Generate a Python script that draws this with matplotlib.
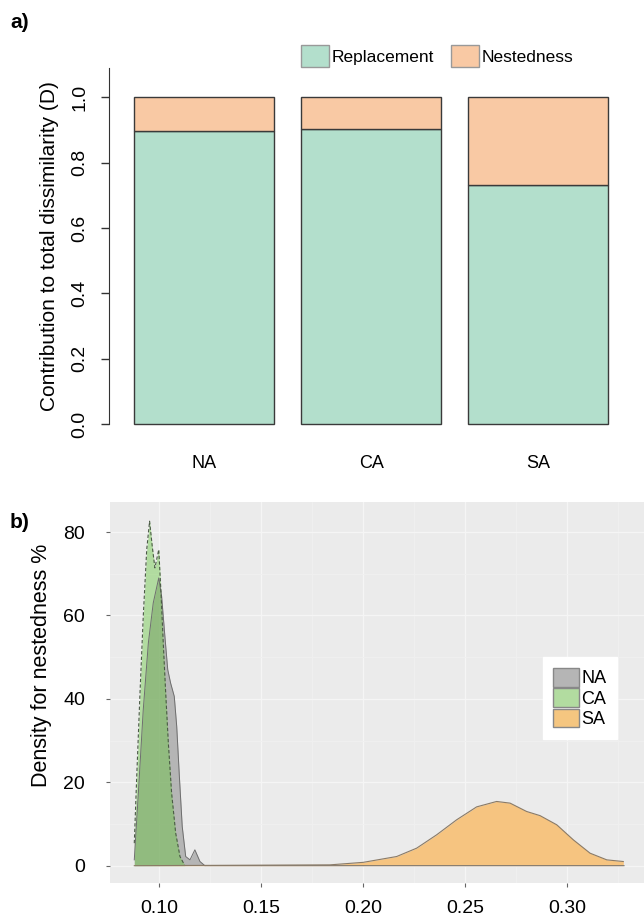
import matplotlib
matplotlib.use("Agg")
import matplotlib.pyplot as plt
from matplotlib.patches import Patch

plt.rcParams['font.family'] = ['Liberation Sans', 'DejaVu Sans']

# panel a: partitioning of total dissimilarity
regions = ["NA", "CA", "SA"]
replacement = [0.898, 0.902, 0.733]
nestedness = [0.102, 0.098, 0.267]

# panel b: density of nestedness
na_x = [0.0879, 0.0899, 0.0923, 0.0948, 0.0972, 0.0999, 0.1013, 0.1029, 0.1043,
        0.1057, 0.1075, 0.1087, 0.1100, 0.1114, 0.1131, 0.1152, 0.1176, 0.1201,
        0.1225, 0.20, 0.328]
na_y = [1.4, 17.4, 37.4, 53.4, 63.0, 69.0, 64.6, 55.0, 47.0,
        43.8, 40.6, 33.4, 21.4, 9.4, 2.2, 1.4, 3.8, 1.0,
        0.0, 0.0, 0.0]

ca_x = [0.0879, 0.0891, 0.0907, 0.0923, 0.0940, 0.0954, 0.0967, 0.0980, 0.0999,
        0.1010, 0.1021, 0.1033, 0.1046, 0.1062, 0.1082, 0.1103, 0.1127]
ca_y = [5.4, 21.4, 41.4, 59.8, 75.8, 82.6, 76.6, 71.4, 75.8,
        65.4, 53.4, 41.4, 29.4, 17.4, 7.8, 2.2, 0.0]

sa_x = [0.0879, 0.1838, 0.2001, 0.2165, 0.2263, 0.2361, 0.2459, 0.2557, 0.2655,
        0.2721, 0.2802, 0.2868, 0.2950, 0.3031, 0.3113, 0.3195, 0.3276]
sa_y = [0.0, 0.2, 0.8, 2.2, 4.2, 7.4, 11.0, 14.1, 15.4,
        15.0, 13.0, 12.0, 9.8, 6.2, 3.0, 1.4, 1.0]

W, H = 644, 915
fig = plt.figure(figsize=(W / 100, H / 100), dpi=100)

# ---------------- panel a ----------------
ax1 = fig.add_axes([109 / W, (H - 434) / H, (630 - 109) / W, (434 - 58) / H])
pos = range(len(regions))
ax1.bar(pos, replacement, width=0.838, color="#b3dfcc", edgecolor="#3a3a3a", linewidth=1.0)
ax1.bar(pos, nestedness, bottom=replacement, width=0.838, color="#f9c9a4",
        edgecolor="#3a3a3a", linewidth=1.0)
ax1.set_xlim(-0.57, 2.55)
ax1.set_ylim(-0.03, 1.12)
for s in ["top", "right", "bottom"]:
    ax1.spines[s].set_visible(False)
ax1.spines["left"].set_bounds(0, 1.09)
ax1.spines["left"].set_color("#333333")
ax1.set_yticks([0, 0.2, 0.4, 0.6, 0.8, 1.0])
ax1.set_yticklabels(["0.0", "0.2", "0.4", "0.6", "0.8", "1.0"], rotation=90, va="center")
ax1.tick_params(axis="y", length=6, width=1, color="#333333", labelsize=14, pad=9)
ax1.set_xticks([])
for i, r in enumerate(regions):
    ax1.text(i, -0.12, r, ha="center", va="center", fontsize=13, transform=ax1.transData,
             clip_on=False)
ax1.set_ylabel("Contribution to total dissimilarity (D)", fontsize=15, labelpad=9)
ax1.legend(handles=[Patch(facecolor="#b3dfcc", edgecolor="#999999", label="Replacement"),
                    Patch(facecolor="#f9c9a4", edgecolor="#999999", label="Nestedness")],
           loc="center", bbox_to_anchor=(437 / W, 1 - 56 / H), bbox_transform=fig.transFigure,
           ncol=2, frameon=False, fontsize=12.5, handlelength=1.6, handleheight=1.5,
           handletextpad=0.15, columnspacing=1.0, borderpad=0.1)
fig.text(10 / W, 1 - 22 / H, "a)", fontsize=15, fontweight="bold", va="center")

# ---------------- panel b ----------------
ax2 = fig.add_axes([110 / W, (H - 883) / H, (648.6 - 110) / W, (883 - 502) / H])
ax2.set_facecolor("#ebebeb")
ax2.set_xlim(0.076, 0.340)
ax2.set_ylim(-4.15, 87.2)
ax2.set_xticks([0.10, 0.15, 0.20, 0.25, 0.30])
ax2.set_xticks([0.125, 0.175, 0.225, 0.275, 0.325], minor=True)
ax2.set_yticks([0, 20, 40, 60, 80])
ax2.set_yticks([10, 30, 50, 70], minor=True)
ax2.grid(which="major", color="#f5f5f5", linewidth=0.9)
ax2.grid(which="minor", color="#f0f0f0", linewidth=0.6)
ax2.set_axisbelow(True)
for s in ax2.spines.values():
    s.set_visible(False)
ax2.tick_params(which="major", length=3, color="#666666", labelsize=14)
ax2.tick_params(axis="x", which="major", pad=9)
ax2.tick_params(axis="y", which="major", pad=15)
ax2.tick_params(which="minor", length=0)

ax2.fill_between(na_x, na_y, color="#9e9e9e", alpha=0.7, linewidth=0)
ax2.plot(na_x, na_y, color="#6e6e6e", linewidth=0.7)
ax2.fill_between(ca_x, ca_y, color="#5cc530", alpha=0.4, linewidth=0)
ax2.plot(ca_x, ca_y, color="#4a5a45", linewidth=0.8, linestyle=(0, (3, 2)))
ax2.fill_between(sa_x, sa_y, color="#f7c27a", alpha=0.95, linewidth=0)
ax2.plot(sa_x, sa_y, color="#8a7a66", linewidth=0.8)

ax2.set_ylabel("Density for nestedness %", fontsize=15.5)
ax2.yaxis.set_label_coords(-0.108, 0.57)
leg = ax2.legend(handles=[Patch(facecolor="#b5b5b5", edgecolor="#888888", label="NA"),
                          Patch(facecolor="#b2dca0", edgecolor="#888888", label="CA"),
                          Patch(facecolor="#f5c680", edgecolor="#888888", label="SA")],
                 loc="center", bbox_to_anchor=(580 / W, 1 - 698 / H),
                 bbox_transform=fig.transFigure, fontsize=13, frameon=True,
                 handlelength=1.4, handleheight=1.2, handletextpad=0.15,
                 labelspacing=0.05, borderpad=0.6, fancybox=False, framealpha=1)
leg.get_frame().set_edgecolor("white")
leg.get_frame().set_facecolor("white")
fig.text(10 / W, 1 - 522 / H, "b)", fontsize=15, fontweight="bold", va="center")

fig.savefig("out.png", dpi=100)
